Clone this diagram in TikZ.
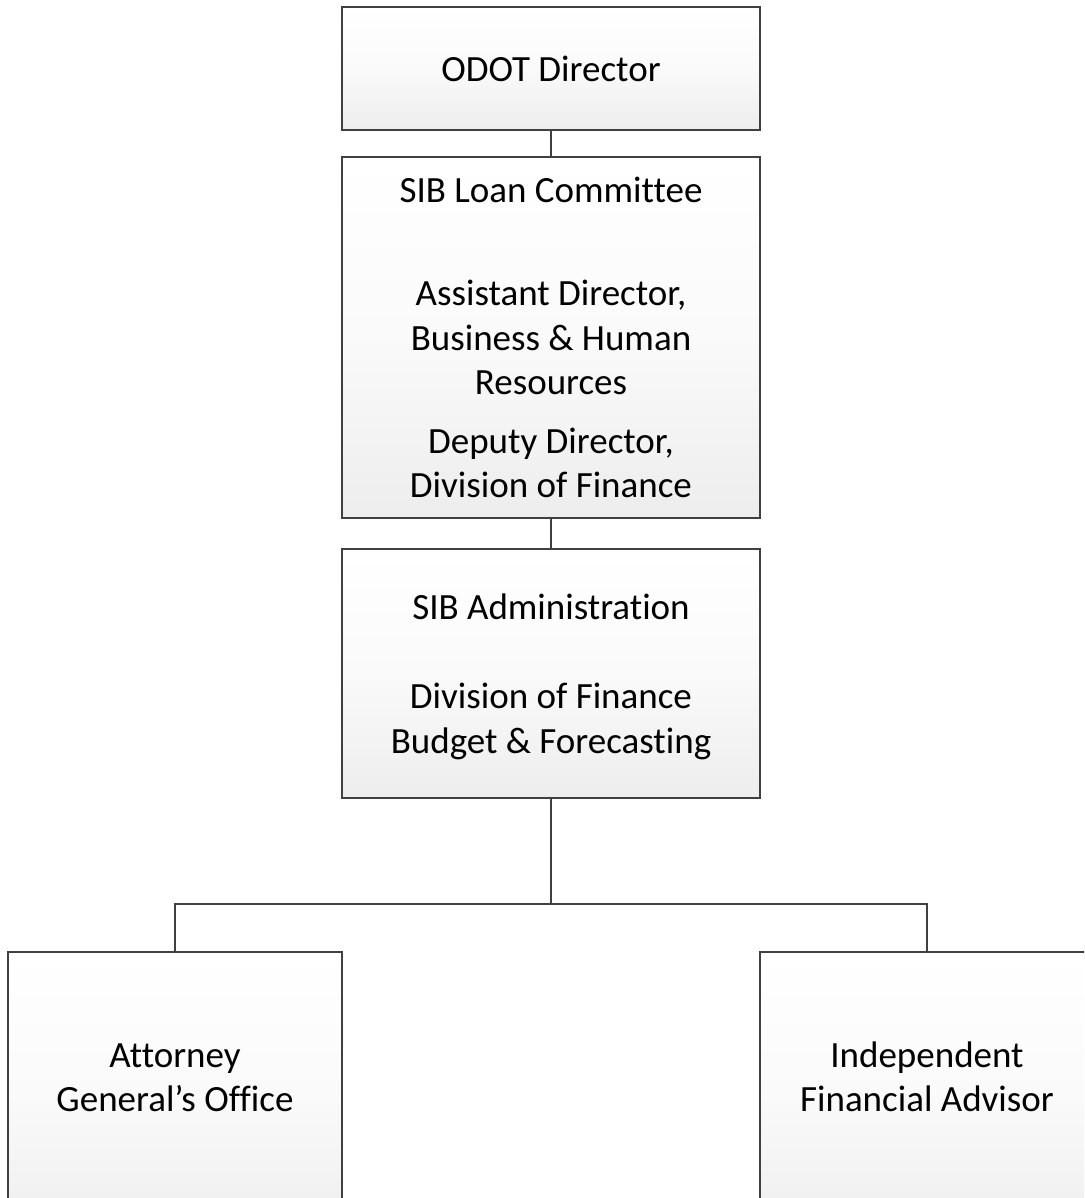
\documentclass[tikz,border=0pt]{standalone}
\usepackage{fontspec}
\setmainfont{Carlito}[Ligatures=NoCommon]
\begin{document}
\begin{tikzpicture}[x=1pt,y=-1pt,
  orgbox/.style={draw=black!75, line width=2pt, rectangle, inner sep=0pt,
    top color=white, bottom color=black!7, middle color=black!2},
  conn/.style={draw=black!75, line width=2pt},
  txt/.style={anchor=base, inner sep=0pt, font=\fontsize{37}{44.5}\selectfont}]
\useasboundingbox (0,0) rectangle (1084,1198);
\clip (0,0) rectangle (1084,1198);
% boxes
\node[orgbox, minimum width=418pt, minimum height=123pt] (odot) at (551,68.5) {};
\node[orgbox, minimum width=418pt, minimum height=361pt] (loan) at (551,337.5) {};
\node[orgbox, minimum width=418pt, minimum height=249pt] (admin) at (551,673.5) {};
\node[orgbox, minimum width=334pt, minimum height=290pt] (ago) at (175,1097) {};
\node[orgbox, minimum width=334pt, minimum height=290pt] (ifa) at (927,1097) {};
% texts
\node[txt] (t1) at (551,82) {ODOT Director};
\node[txt] (t2) at (551,202.5) {SIB Loan Committee};
\node[txt] (t3) at (551,305.5) {Assistant Director,};
\node[txt] (t4) at (551,350) {Business \& Human};
\node[txt] (t5) at (551,394.5) {Resources};
\node[txt] (t6) at (551,453) {Deputy Director,};
\node[txt] (t7) at (551,497.5) {Division of Finance};
\node[txt] (t8) at (551,619.5) {SIB Administration};
\node[txt] (t9) at (551,708.5) {Division of Finance};
\node[txt] (t10) at (551,753) {Budget \& Forecasting};
\node[txt] (t11) at (175,1067.5) {Attorney};
\node[txt] (t12) at (175,1111.5) {General’s Office};
\node[txt] (t13) at (927,1067.5) {Independent};
\node[txt] (t14) at (927,1111.5) {Financial Advisor};
% connectors
\coordinate (bus) at (551,904);
\draw[conn] (odot.south) -- (loan.north);
\draw[conn] (loan.south) -- (admin.north);
\draw[conn] (admin.south) -- (bus);
\draw[conn] (ago.north) |- (bus) -| (ifa.north);
\end{tikzpicture}
\end{document}
